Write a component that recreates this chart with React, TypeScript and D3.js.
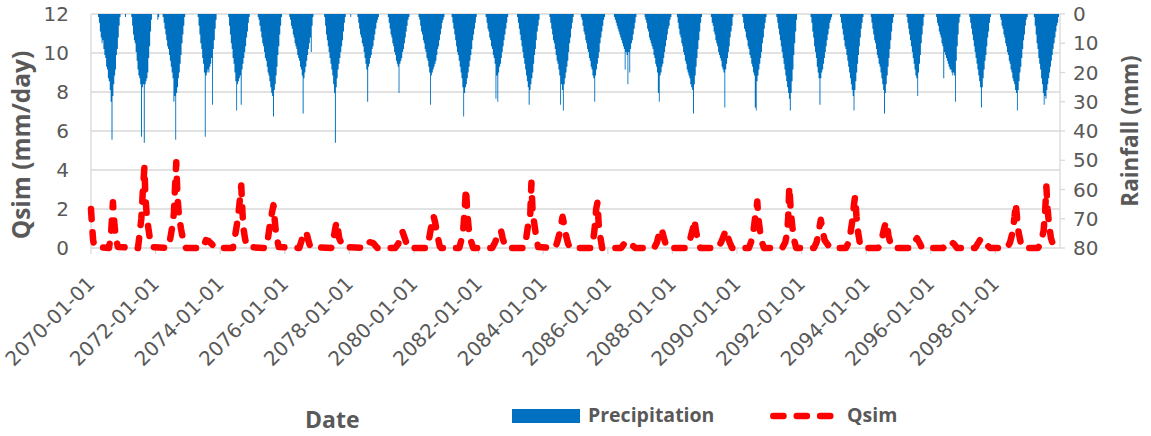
import { useEffect, useRef } from 'react';

import * as d3 from 'd3';

const width = 1151;
const height = 436;
const [mt, mr, mb, ml] = [14, 91, 188, 91];

const blue = '#0070C0';
const red = '#FF0000';
const grey = '#595959';
const gridGrey = '#D9D9D9';

// tick labels
const xTickLabels = [
    '2070-01-01', '2072-01-01', '2074-01-01', '2076-01-01', '2078-01-01',
    '2080-01-01', '2082-01-01', '2084-01-01', '2086-01-01', '2088-01-01',
    '2090-01-01', '2092-01-01', '2094-01-01', '2096-01-01', '2098-01-01',
];
const qsimTicks = [0, 2, 4, 6, 8, 10, 12];
const rainTicks = [0, 10, 20, 30, 40, 50, 60, 70, 80];

// Rainfall (mm), one row per year, 36 ten-day values (max daily rain in each dekad)
const rain2070s = [
    [0, 0, 0, 0, 0, 0, 0, 0, 1, 3, 6, 8, 10, 9, 12, 14, 15, 18, 19, 22, 23, 26, 30, 43, 28, 24, 21, 19, 14, 12, 8, 4, 1, 0, 0, 0],
    [0, 0, 1, 0, 0, 0, 0, 0, 0, 1, 4, 7, 9, 10, 13, 16, 19, 21, 22, 24, 42, 25, 24, 44, 24, 23, 22, 20, 15, 11, 6, 2, 0, 0, 0, 0],
    [0, 0, 2, 1, 0, 0, 0, 0, 1, 3, 5, 7, 9, 11, 12, 14, 16, 18, 20, 22, 30, 28, 43, 27, 25, 22, 20, 17, 14, 10, 7, 4, 1, 0, 0, 0],
    [0, 0, 0, 0, 0, 0, 0, 0, 0, 0, 0, 1, 4, 7, 10, 12, 15, 17, 20, 42, 21, 20, 19, 20, 18, 17, 15, 31, 12, 9, 5, 2, 0, 0, 0, 0],
    [0, 0, 0, 0, 0, 0, 0, 0, 0, 1, 4, 7, 10, 12, 15, 17, 20, 23, 33, 24, 23, 22, 21, 31, 19, 17, 15, 13, 11, 8, 6, 3, 1, 0, 0, 0],
    [0, 0, 0, 0, 0, 0, 1, 2, 4, 6, 8, 10, 11, 13, 15, 16, 18, 20, 21, 23, 25, 27, 28, 35, 26, 24, 21, 18, 14, 11, 7, 4, 1, 0, 0, 0],
    [0, 0, 0, 0, 0, 1, 2, 4, 5, 7, 8, 10, 11, 12, 14, 15, 16, 18, 19, 21, 34, 22, 20, 18, 16, 14, 12, 10, 8, 13, 4, 1, 0, 0, 0, 0],
    [0, 0, 0, 0, 0, 0, 0, 0, 1, 4, 7, 9, 11, 13, 15, 17, 19, 21, 24, 27, 44, 25, 22, 19, 17, 15, 13, 11, 9, 6, 3, 1, 0, 0, 0, 0],
    [0, 1, 0, 0, 0, 0, 0, 0, 0, 1, 3, 5, 7, 8, 10, 11, 13, 15, 17, 19, 30, 18, 17, 15, 14, 12, 11, 9, 7, 5, 3, 2, 1, 0, 0, 0],
    [0, 0, 0, 0, 0, 0, 0, 1, 3, 5, 7, 8, 10, 11, 13, 14, 16, 17, 18, 27, 17, 16, 15, 13, 12, 10, 8, 6, 4, 2, 1, 0, 0, 0, 0, 0],
];
const rain2080s = [
    [0, 0, 0, 0, 0, 1, 2, 4, 6, 7, 9, 10, 12, 13, 15, 16, 18, 20, 31, 21, 20, 19, 18, 17, 16, 14, 12, 11, 9, 7, 5, 3, 2, 1, 0, 0],
    [0, 0, 0, 0, 0, 0, 1, 3, 5, 7, 9, 11, 13, 14, 16, 18, 20, 22, 25, 35, 27, 25, 24, 22, 20, 18, 16, 14, 12, 9, 7, 5, 3, 1, 0, 0],
    [0, 0, 0, 0, 0, 0, 0, 0, 1, 3, 5, 6, 8, 9, 11, 12, 14, 15, 17, 29, 21, 30, 20, 18, 17, 15, 13, 11, 9, 7, 5, 3, 1, 0, 0, 0],
    [0, 0, 0, 0, 0, 0, 0, 1, 3, 5, 7, 9, 11, 13, 15, 17, 19, 21, 23, 25, 31, 26, 24, 22, 20, 17, 14, 12, 9, 6, 4, 2, 0, 0, 0, 0],
    [0, 0, 0, 0, 0, 0, 0, 1, 3, 5, 7, 9, 10, 12, 14, 16, 17, 19, 21, 31, 24, 26, 33, 24, 22, 20, 18, 16, 13, 10, 8, 5, 3, 1, 0, 0],
    [0, 0, 0, 0, 0, 0, 1, 2, 4, 6, 7, 9, 10, 12, 13, 15, 16, 18, 19, 21, 22, 30, 21, 19, 17, 15, 13, 10, 8, 6, 4, 2, 1, 0, 0, 0],
    [0, 0, 0, 0, 0, 0, 0, 1, 2, 3, 4, 5, 6, 7, 8, 9, 10, 11, 12, 19, 13, 14, 24, 13, 20, 12, 10, 9, 7, 5, 3, 1, 0, 0, 0, 0],
    [0, 0, 0, 0, 0, 1, 2, 3, 5, 6, 8, 9, 10, 11, 12, 14, 15, 17, 18, 20, 27, 30, 21, 20, 18, 17, 15, 13, 11, 9, 7, 5, 4, 2, 1, 0],
    [0, 0, 0, 0, 0, 1, 3, 5, 7, 8, 10, 11, 13, 14, 16, 17, 19, 20, 21, 22, 24, 25, 26, 34, 24, 21, 18, 15, 12, 9, 6, 3, 1, 0, 0, 0],
    [0, 0, 0, 0, 0, 0, 0, 1, 3, 4, 6, 7, 9, 10, 11, 13, 14, 15, 16, 18, 19, 20, 32, 19, 17, 15, 13, 11, 8, 6, 4, 1, 0, 0, 0, 0],
];
const rain2090s = [
    [0, 0, 0, 0, 0, 0, 1, 3, 5, 6, 8, 9, 11, 12, 14, 15, 17, 18, 20, 21, 32, 33, 23, 21, 19, 17, 15, 13, 10, 8, 5, 3, 1, 0, 0, 0],
    [0, 0, 0, 0, 0, 0, 0, 0, 1, 3, 5, 7, 9, 11, 13, 15, 17, 19, 21, 23, 25, 27, 29, 33, 27, 23, 19, 14, 10, 6, 2, 0, 0, 0, 0, 0],
    [0, 0, 0, 0, 0, 0, 0, 0, 0, 0, 1, 3, 6, 8, 11, 13, 15, 18, 20, 22, 31, 22, 20, 19, 17, 15, 13, 11, 9, 7, 5, 3, 2, 1, 0, 0],
    [0, 0, 0, 0, 0, 0, 0, 1, 3, 5, 7, 9, 11, 12, 14, 16, 18, 20, 22, 24, 26, 28, 33, 26, 23, 20, 17, 14, 11, 8, 5, 3, 1, 0, 0, 0],
    [0, 0, 0, 0, 0, 1, 3, 5, 7, 9, 10, 12, 14, 15, 17, 18, 20, 22, 24, 26, 34, 27, 24, 21, 18, 15, 12, 9, 6, 3, 1, 0, 0, 0, 0, 0],
    [0, 0, 0, 0, 0, 0, 0, 0, 0, 1, 3, 5, 7, 9, 11, 13, 15, 17, 19, 21, 22, 28, 20, 17, 14, 10, 7, 4, 1, 0, 0, 0, 0, 0, 0, 0],
    [0, 0, 0, 0, 0, 0, 1, 3, 4, 6, 7, 8, 10, 11, 22, 13, 14, 15, 16, 17, 18, 19, 19, 20, 21, 20, 21, 30, 16, 11, 7, 3, 1, 0, 0, 0],
    [0, 0, 0, 0, 0, 0, 0, 1, 3, 5, 7, 9, 11, 13, 15, 17, 19, 21, 23, 25, 32, 25, 22, 19, 16, 14, 11, 8, 6, 3, 1, 0, 0, 0, 0, 0],
    [0, 0, 0, 0, 0, 1, 2, 4, 5, 7, 8, 10, 11, 13, 14, 16, 17, 19, 20, 22, 23, 24, 26, 27, 33, 26, 23, 20, 18, 15, 12, 9, 7, 4, 2, 1],
    [0, 0, 0, 0, 0, 0, 0, 1, 4, 7, 10, 12, 15, 17, 19, 22, 24, 27, 31, 28, 29, 26, 24, 22, 20, 18, 16, 14, 12, 10, 8, 6, 4, 3, 1, 0],
];

// Qsim (mm/day), vertices of the simulated flow line
const qsim2070s: [string, number][] = [
    ['2070-01-01', 2.0], ['2070-01-12', 1.2], ['2070-01-25', 0.4], ['2070-02-10', 0.05],
    ['2070-07-23', 0], ['2070-08-14', 0.6], ['2070-08-26', 1.5], ['2070-09-06', 2.35], ['2070-09-23', 1.2], ['2070-10-10', 0.5], ['2070-11-01', 0.05],
    ['2071-06-16', 0], ['2071-07-02', 0.6], ['2071-07-24', 1.5], ['2071-08-11', 3.0], ['2071-08-28', 4.15], ['2071-09-08', 2.6], ['2071-09-25', 1.6], ['2071-10-12', 1.0], ['2071-11-04', 0.3], ['2071-11-22', 0.05],
    ['2072-05-20', 0], ['2072-06-12', 0.4], ['2072-07-04', 1.0], ['2072-07-27', 1.8], ['2072-08-07', 3.0], ['2072-08-22', 4.4], ['2072-09-05', 2.6], ['2072-09-21', 1.7], ['2072-10-14', 1.0], ['2072-11-17', 0.2], ['2072-12-10', 0],
    ['2073-06-19', 0], ['2073-07-23', 0.4], ['2073-08-26', 0.35], ['2073-09-28', 0.2], ['2073-11-01', 0],
    ['2074-05-25', 0], ['2074-06-17', 0.6], ['2074-07-09', 1.2], ['2074-08-01', 2.0], ['2074-08-27', 3.2], ['2074-09-10', 1.8], ['2074-09-21', 1.0], ['2074-10-08', 0.5], ['2074-10-31', 0.05],
    ['2075-06-02', 0], ['2075-06-25', 0.5], ['2075-07-17', 1.2], ['2075-08-09', 1.8], ['2075-08-26', 2.2], ['2075-09-08', 1.5], ['2075-09-25', 0.7], ['2075-10-25', 0.05],
    ['2076-06-13', 0], ['2076-07-17', 0.5], ['2076-08-14', 0.8], ['2076-08-31', 0.84], ['2076-09-23', 0.4], ['2076-10-16', 0.05],
    ['2077-06-10', 0], ['2077-07-02', 0.4], ['2077-07-25', 1.0], ['2077-08-09', 1.35], ['2077-08-23', 1.0], ['2077-09-08', 0.5], ['2077-10-20', 0.05],
    ['2078-07-12', 0], ['2078-08-15', 0.3], ['2078-09-28', 0.25], ['2078-11-13', 0],
    ['2079-06-02', 0], ['2079-07-06', 0.2], ['2079-07-28', 0.5], ['2079-08-23', 0.85], ['2079-09-11', 0.6], ['2079-10-04', 0.3], ['2079-10-27', 0],
];
const qsim2080s: [string, number][] = [
    ['2080-05-30', 0], ['2080-06-21', 0.5], ['2080-07-14', 1.1], ['2080-08-09', 1.65], ['2080-08-28', 1.3], ['2080-09-20', 0.7], ['2080-10-18', 0.1], ['2080-11-03', 0],
    ['2081-05-27', 0], ['2081-06-19', 0.4], ['2081-07-12', 1.0], ['2081-07-28', 2.0], ['2081-08-11', 3.05], ['2081-08-26', 1.8], ['2081-09-11', 1.0], ['2081-10-04', 0.4], ['2081-11-01', 0],
    ['2082-06-03', 0], ['2082-07-07', 0.3], ['2082-08-10', 0.7], ['2082-09-10', 0.92], ['2082-09-30', 0.5], ['2082-11-05', 0],
    ['2083-05-31', 0], ['2083-06-23', 0.5], ['2083-07-15', 1.2], ['2083-08-07', 1.6], ['2083-08-21', 3.35], ['2083-09-04', 1.8], ['2083-09-21', 1.3], ['2083-10-13', 0.6], ['2083-11-05', 0.05],
    ['2084-05-16', 0], ['2084-06-08', 0.3], ['2084-07-06', 0.8], ['2084-08-07', 1.6], ['2084-08-26', 1.2], ['2084-09-17', 0.6], ['2084-10-10', 0.2], ['2084-11-01', 0],
    ['2085-06-27', 0], ['2085-07-20', 0.4], ['2085-08-05', 1.0], ['2085-08-22', 2.0], ['2085-09-06', 2.35], ['2085-09-20', 1.2], ['2085-10-07', 0.6], ['2085-10-29', 0],
    ['2086-06-01', 0], ['2086-07-16', 0.3], ['2086-08-30', 0.35], ['2086-10-03', 0.15], ['2086-11-06', 0],
    ['2087-06-08', 0], ['2087-07-12', 0.3], ['2087-08-03', 0.75], ['2087-08-22', 1.0], ['2087-09-11', 0.8], ['2087-10-04', 0.4], ['2087-11-01', 0],
    ['2088-06-08', 0], ['2088-07-12', 0.3], ['2088-08-03', 0.7], ['2088-08-26', 1.1], ['2088-09-06', 1.45], ['2088-09-23', 0.9], ['2088-10-15', 0.4], ['2088-11-13', 0],
    ['2089-06-01', 0], ['2089-07-05', 0.3], ['2089-08-02', 0.6], ['2089-08-27', 0.92], ['2089-09-16', 0.6], ['2089-10-09', 0.3], ['2089-11-06', 0],
];
const qsim2090s: [string, number][] = [
    ['2090-05-16', 0], ['2090-06-08', 0.3], ['2090-07-01', 0.7], ['2090-07-23', 1.5], ['2090-08-09', 2.0], ['2090-08-18', 2.38], ['2090-08-31', 1.5], ['2090-09-17', 0.9], ['2090-10-10', 0.3], ['2090-11-01', 0],
    ['2091-05-27', 0], ['2091-07-01', 0.3], ['2091-07-23', 0.8], ['2091-08-03', 1.6], ['2091-08-15', 3.15], ['2091-08-28', 2.2], ['2091-09-11', 1.4], ['2091-10-04', 0.5], ['2091-11-01', 0],
    ['2092-05-21', 0], ['2092-06-19', 0.3], ['2092-07-12', 0.8], ['2092-08-05', 1.45], ['2092-08-26', 0.9], ['2092-09-17', 0.4], ['2092-11-18', 0],
    ['2093-05-18', 0], ['2093-06-16', 0.3], ['2093-07-08', 0.8], ['2093-07-31', 1.5], ['2093-08-17', 2.3], ['2093-08-28', 2.63], ['2093-09-13', 1.6], ['2093-10-01', 0.8], ['2093-10-23', 0.2], ['2093-11-15', 0],
    ['2094-05-16', 0], ['2094-06-19', 0.3], ['2094-07-17', 0.9], ['2094-08-11', 1.35], ['2094-08-26', 1.1], ['2094-09-11', 0.6], ['2094-10-04', 0.2], ['2094-10-21', 0],
    ['2095-05-22', 0], ['2095-06-26', 0.3], ['2095-07-30', 0.5], ['2095-09-02', 0.2], ['2095-09-24', 0],
    ['2096-05-19', 0], ['2096-06-23', 0.25], ['2096-08-07', 0.35], ['2096-09-21', 0.2], ['2096-10-24', 0],
    ['2097-05-16', 0], ['2097-06-19', 0.25], ['2097-07-23', 0.5], ['2097-08-26', 0.3], ['2097-09-28', 0.15], ['2097-11-01', 0],
    ['2098-05-13', 0], ['2098-06-16', 0.3], ['2098-07-14', 0.8], ['2098-08-05', 1.6], ['2098-08-19', 2.29], ['2098-09-03', 1.5], ['2098-09-20', 0.8], ['2098-10-13', 0.3], ['2098-11-09', 0],
    ['2099-04-28', 0], ['2099-06-01', 0.3], ['2099-06-30', 0.9], ['2099-07-16', 1.8], ['2099-07-31', 3.15], ['2099-08-14', 2.0], ['2099-08-30', 1.2], ['2099-09-21', 0.5], ['2099-10-20', 0.1], ['2099-11-17', 0], ['2099-12-31', 0],
];

const firstYear = 2070;
const dekadDays = [1, 11, 21];

// start of dekad i (0..35) in a year, i = 36 is the next year
const dekadStart = (year: number, i: number) =>
    i >= 36 ? new Date(Date.UTC(year + 1, 0, 1)) : new Date(Date.UTC(year, Math.floor(i / 3), dekadDays[i % 3]));

type Pt = { date: Date; v: number };

export default function App() {
    const chart = useRef<SVGSVGElement>(null);

    useEffect(() => {
        document.body.style.margin = '0';
        const svg = d3.select(chart.current);
        svg.selectAll('*').remove();

        const parse = d3.utcParse('%Y-%m-%d');
        const x = d3
            .scaleUtc()
            .domain([new Date(Date.UTC(2070, 0, 1)), new Date(Date.UTC(2100, 0, 1))])
            .range([ml, width - mr]);
        const yQ = d3.scaleLinear().domain([0, 12]).range([height - mb, mt]);
        // rainfall axis is inverted: 0 at the top
        const yR = d3.scaleLinear().domain([0, 80]).range([mt, height - mb]);

        const tickFont = "'DejaVu Sans', sans-serif";
        const titleFont = "'Open Sans', sans-serif";
        const tickSize = '20px';

        // gridlines
        svg.append('g')
            .selectAll('line')
            .data(qsimTicks)
            .join('line')
            .attr('x1', ml)
            .attr('x2', width - mr)
            .attr('y1', (d) => yQ(d))
            .attr('y2', (d) => yQ(d))
            .attr('stroke', gridGrey)
            .attr('stroke-width', 1.3);

        // precipitation hanging from the top, drawn as a stepped area so the dekads join up
        const rainRows = [...rain2070s, ...rain2080s, ...rain2090s];
        const rain: Pt[] = rainRows.flatMap((row, yi) => row.map((v, i) => ({ date: dekadStart(firstYear + yi, i), v })));
        rain.push({ date: new Date(Date.UTC(2100, 0, 1)), v: 0 });

        const rainArea = d3
            .area<Pt>()
            .curve(d3.curveStepAfter)
            .x((d) => x(d.date))
            .y0(yR(0))
            .y1((d) => yR(d.v));
        svg.append('path').datum(rain).attr('d', rainArea).attr('fill', blue);

        // axis lines
        const axes = svg.append('g').attr('stroke', gridGrey).attr('stroke-width', 1.3);
        axes.append('line').attr('x1', ml).attr('x2', ml).attr('y1', mt).attr('y2', height - mb);
        axes.append('line').attr('x1', width - mr).attr('x2', width - mr).attr('y1', mt).attr('y2', height - mb);
        axes.selectAll('.xt')
            .data(xTickLabels)
            .join('line')
            .attr('class', 'xt')
            .attr('x1', (d) => x(parse(d)!))
            .attr('x2', (d) => x(parse(d)!))
            .attr('y1', height - mb)
            .attr('y2', height - mb + 6);
        axes.selectAll('.rt')
            .data(rainTicks)
            .join('line')
            .attr('class', 'rt')
            .attr('x1', width - mr)
            .attr('x2', width - mr + 5)
            .attr('y1', (d) => yR(d))
            .attr('y2', (d) => yR(d));

        // Qsim line
        const qsim: Pt[] = [...qsim2070s, ...qsim2080s, ...qsim2090s].map(([d, v]) => ({ date: parse(d)!, v }));
        const line = d3
            .line<Pt>()
            .x((d) => x(d.date))
            .y((d) => yQ(d.v));
        svg.append('path')
            .datum(qsim)
            .attr('d', line)
            .attr('fill', 'none')
            .attr('stroke', red)
            .attr('stroke-width', 6.5)
            .attr('stroke-linecap', 'round')
            .attr('stroke-linejoin', 'round')
            .attr('stroke-dasharray', '10.2 13.2');

        // tick labels
        svg.append('g')
            .selectAll('text')
            .data(qsimTicks)
            .join('text')
            .attr('x', 69)
            .attr('y', (d) => yQ(d))
            .attr('dy', '0.36em')
            .attr('text-anchor', 'end')
            .style('font-family', tickFont)
            .style('font-size', tickSize)
            .attr('fill', grey)
            .text((d) => d);

        svg.append('g')
            .selectAll('text')
            .data(rainTicks)
            .join('text')
            .attr('x', 1073)
            .attr('y', (d) => yR(d))
            .attr('dy', '0.36em')
            .attr('text-anchor', 'start')
            .style('font-family', tickFont)
            .style('font-size', tickSize)
            .attr('fill', grey)
            .text((d) => d);

        svg.append('g')
            .selectAll('text')
            .data(xTickLabels)
            .join('text')
            .attr('transform', (d) => `translate(${x(parse(d)!) + 5}, 285) rotate(-45)`)
            .attr('text-anchor', 'end')
            .style('font-family', tickFont)
            .style('font-size', tickSize)
            .attr('fill', grey)
            .text((d) => d);

        // axis titles
        const title = (t: string, tx: number, ty: number, rot: number, size: number, anchor = 'middle') =>
            svg.append('text')
                .attr('transform', `translate(${tx}, ${ty}) rotate(${rot})`)
                .attr('text-anchor', anchor)
                .style('font-family', titleFont)
                .style('font-weight', 700)
                .style('font-size', `${size}px`)
                .attr('fill', grey)
                .text(t);

        title('Qsim (mm/day)', 30, 145, -90, 24.5);
        title('Rainfall (mm)', 1138, 131, -90, 22.5);
        title('Date', 305, 428, 0, 23, 'start');

        // legend
        svg.append('rect').attr('x', 512).attr('y', 409).attr('width', 68).attr('height', 14).attr('fill', blue);
        title('Precipitation', 588, 422, 0, 19.5, 'start');
        svg.append('line')
            .attr('x1', 773.3)
            .attr('x2', 832)
            .attr('y1', 416)
            .attr('y2', 416)
            .attr('stroke', red)
            .attr('stroke-width', 6.5)
            .attr('stroke-linecap', 'round')
            .attr('stroke-dasharray', '10.2 13.2');
        title('Qsim', 847, 422, 0, 19.5, 'start');
    }, []);

    return <svg ref={chart} width={width} height={height} style={{ display: 'block', backgroundColor: '#fff' }} />;
}
